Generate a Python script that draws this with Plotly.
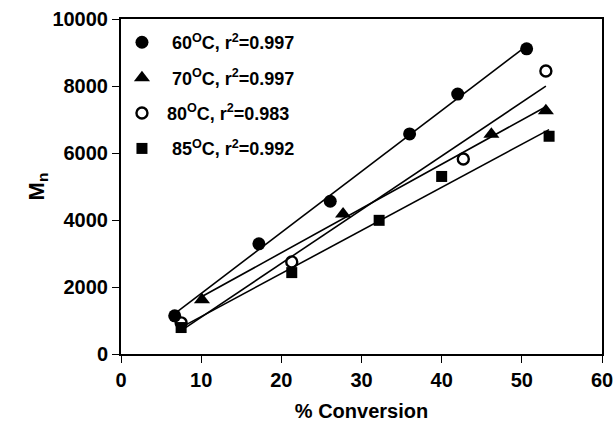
import numpy as np
import plotly.graph_objects as go

x60 = [6.7, 17.2, 26.1, 36.0, 42.0, 50.6]
y60 = [1140, 3290, 4560, 6570, 7760, 9110]
x70 = [10.1, 27.7, 46.2, 53.0]
y70 = [1620, 4180, 6560, 7260]
x80 = [7.5, 21.3, 42.7, 53.0]
y80 = [930, 2750, 5820, 8450]
x85 = [7.5, 21.3, 32.2, 40.0, 53.4]
y85 = [790, 2430, 3990, 5300, 6500]

labels = ["&nbsp;&nbsp;60<sup>O</sup>C, r<sup>2</sup>=0.997",
          "&nbsp;&nbsp;70<sup>O</sup>C, r<sup>2</sup>=0.997",
          "&nbsp;80<sup>O</sup>C, r<sup>2</sup>=0.983",
          "&nbsp;&nbsp;85<sup>O</sup>C, r<sup>2</sup>=0.992"]

series = [
    (x60, y60, dict(symbol="circle", size=13, color="black")),
    (x70, y70, dict(symbol="triangle-up", size=14, color="black")),
    (x80, y80, dict(symbol="circle-open", size=11, color="black", line=dict(width=2.4, color="black"))),
    (x85, y85, dict(symbol="square", size=11, color="black")),
]

fig = go.Figure()
for (xs, ys, mk) in series:
    xs_a = np.array(xs); ys_a = np.array(ys)
    m, b = np.polyfit(xs_a, ys_a, 1)
    xl = np.array([xs_a.min(), xs_a.max()])
    fig.add_trace(go.Scatter(x=xl, y=m * xl + b, mode="lines",
                             line=dict(color="black", width=1.6), showlegend=False,
                             hoverinfo="skip"))
for i, ((xs, ys, mk), lab) in enumerate(zip(series, labels)):
    fig.add_trace(go.Scatter(x=xs, y=ys, mode="markers", marker=mk, name=lab,
                             legendgroup=f"g{i}"))

FAM = "Liberation Sans, Arial, Helvetica, sans-serif"
font = dict(family=FAM, size=20, color="black", weight="bold")
fig.update_layout(
    width=616, height=428,
    margin=dict(l=121, r=14, t=19, b=74),
    paper_bgcolor="white", plot_bgcolor="white",
    font=font,
    legend=dict(x=0.002, y=0.985, xanchor="left", yanchor="top",
                bgcolor="rgba(0,0,0,0)",
                font=dict(size=18, family=FAM, color="black", weight="bold"),
                tracegroupgap=9, itemwidth=30),
    xaxis=dict(range=[0, 60], dtick=10, showgrid=False, zeroline=False,
               showline=True, linecolor="black", linewidth=2, mirror=True,
               ticks="outside", ticklen=7, tickcolor="black", tickwidth=1,
               tickfont=dict(family=FAM, size=20, color="black", weight="bold"),
               automargin=False,
               title=dict(text="% Conversion", font=dict(family=FAM, size=20, color="black", weight="bold"), standoff=14)),
    yaxis=dict(range=[0, 10000], dtick=2000, tickformat="d", showgrid=False, zeroline=False,
               showline=True, linecolor="black", linewidth=2, mirror=True,
               ticks="outside", ticklen=7, tickcolor="black", tickwidth=1,
               tickfont=dict(family=FAM, size=20, color="black", weight="bold"),
               automargin=False,
               title=dict(text="M<sub>n</sub>", font=dict(size=22, family=FAM, color="black", weight="bold"), standoff=2)),
)
fig.write_html("out.html", config={"displayModeBar": False},
               post_script="document.body.style.margin='0';document.body.style.overflow='hidden';document.documentElement.style.overflow='hidden';")
